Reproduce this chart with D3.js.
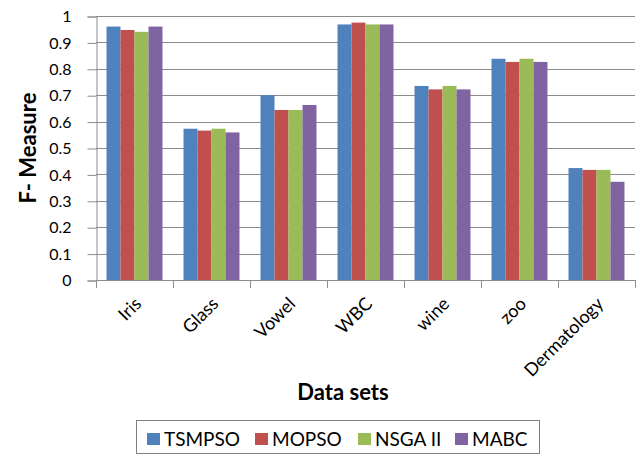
<!DOCTYPE html>
<html>
<head>
<meta charset="utf-8">
<script src="https://cdn.jsdelivr.net/npm/d3@7"></script>
<style>
  body { margin: 0; background: #fff; }
  svg { display: block; font-family: Lato, "Open Sans", sans-serif; }
</style>
</head>
<body>
<div id="chart"></div>
<script>
// data
const datasets = ["Iris", "Glass", "Vowel", "WBC", "wine", "zoo", "Dermatology"];
const seriesNames = ["TSMPSO", "MOPSO", "NSGA II", "MABC"];
const tsmpso = [0.960, 0.573, 0.700, 0.968, 0.735, 0.838, 0.424];
const mopso  = [0.947, 0.566, 0.644, 0.975, 0.722, 0.826, 0.417];
const nsga2  = [0.940, 0.573, 0.644, 0.968, 0.735, 0.838, 0.417];
const mabc   = [0.960, 0.559, 0.663, 0.968, 0.722, 0.826, 0.372];
const yTicks = [0, 0.1, 0.2, 0.3, 0.4, 0.5, 0.6, 0.7, 0.8, 0.9, 1];
const colors = ["#4F81BD", "#C0504D", "#9BBB59", "#8064A2"];

const allValues = [tsmpso, mopso, nsga2, mabc];

const width = 639, height = 455;
const plot = { left: 96, right: 635, top: 16, bottom: 280 };

const svg = d3.select("#chart").append("svg")
    .attr("width", width)
    .attr("height", height);

// scales
const pad = 0.273;
const x0 = d3.scaleBand()
    .domain(datasets)
    .range([plot.left, plot.right])
    .paddingInner(pad)
    .paddingOuter(pad / 2);

const x1 = d3.scaleBand()
    .domain(seriesNames)
    .range([0, x0.bandwidth()]);

const y = d3.scaleLinear()
    .domain([0, 1])
    .range([plot.bottom, plot.top]);

// gridlines
svg.append("g")
    .selectAll("line")
    .data(yTicks)
    .enter().append("line")
    .attr("x1", plot.left)
    .attr("x2", plot.right)
    .attr("y1", d => Math.round(y(d)) + 0.5)
    .attr("y2", d => Math.round(y(d)) + 0.5)
    .attr("stroke", "#8c8c8c")
    .attr("stroke-width", 1);

// y axis
const yAxis = svg.append("g")
    .attr("transform", `translate(${plot.left + 0.5},0.5)`)
    .call(d3.axisLeft(y)
        .tickValues(yTicks)
        .tickSize(9)
        .tickPadding(16)
        .tickFormat(d => String(+d.toFixed(1))));
yAxis.selectAll("line, path").attr("stroke", "#8c8c8c");
yAxis.selectAll("text")
    .attr("font-family", "Lato, sans-serif")
    .attr("font-size", "16px")
    .attr("fill", "#000");

// bars
const groups = svg.append("g")
    .selectAll("g")
    .data(datasets)
    .enter().append("g")
    .attr("transform", d => `translate(${x0(d)},0)`);

groups.selectAll("rect")
    .data((d, i) => seriesNames.map((s, j) => ({ s, j, v: allValues[j][i] })))
    .enter().append("rect")
    .attr("x", d => x1(d.s))
    .attr("y", d => y(d.v))
    .attr("width", x1.bandwidth())
    .attr("height", d => y(0) - y(d.v))
    .attr("fill", d => colors[d.j]);

// x axis line and boundary ticks
const step = x0.step();
const xAxis = svg.append("g");
xAxis.append("line")
    .attr("x1", plot.left)
    .attr("x2", plot.right)
    .attr("y1", plot.bottom + 0.5)
    .attr("y2", plot.bottom + 0.5)
    .attr("stroke", "#8c8c8c");
xAxis.selectAll(".tick")
    .data(d3.range(datasets.length + 1))
    .enter().append("line")
    .attr("x1", i => Math.round(plot.left + i * step) + 0.5)
    .attr("x2", i => Math.round(plot.left + i * step) + 0.5)
    .attr("y1", plot.bottom)
    .attr("y2", plot.bottom + 8)
    .attr("stroke", "#8c8c8c");

// rotated category labels
xAxis.selectAll("text")
    .data(datasets)
    .enter().append("text")
    .attr("transform", d => `translate(${x0(d) + x0.bandwidth() / 2 + 8},305) rotate(-45)`)
    .attr("text-anchor", "end")
    .attr("font-size", "18px")
    .attr("fill", "#000")
    .text(d => d);

// axis titles
svg.append("text")
    .attr("transform", `translate(36,${(plot.top + plot.bottom) / 2}) rotate(-90)`)
    .attr("text-anchor", "middle")
    .attr("font-size", "22px")
    .attr("font-weight", "bold")
    .text("F- Measure");

svg.append("text")
    .attr("x", 343)
    .attr("y", 400)
    .attr("text-anchor", "middle")
    .attr("font-size", "22px")
    .attr("font-weight", "bold")
    .text("Data sets");

// legend
const legend = svg.append("g");
legend.append("rect")
    .attr("x", 136.5)
    .attr("y", 420.5)
    .attr("width", 403)
    .attr("height", 33)
    .attr("fill", "#fff")
    .attr("stroke", "#7f7f7f");

const legendX = [147, 255, 358, 455];
const items = legend.selectAll(".item")
    .data(seriesNames)
    .enter().append("g")
    .attr("transform", (d, i) => `translate(${legendX[i]},0)`);
items.append("rect")
    .attr("y", 433)
    .attr("width", 13)
    .attr("height", 12)
    .attr("fill", (d, i) => colors[i]);
items.append("text")
    .attr("x", 17)
    .attr("y", 446)
    .attr("font-size", "19px")
    .attr("fill", "#000")
    .text(d => d);
</script>
</body>
</html>
